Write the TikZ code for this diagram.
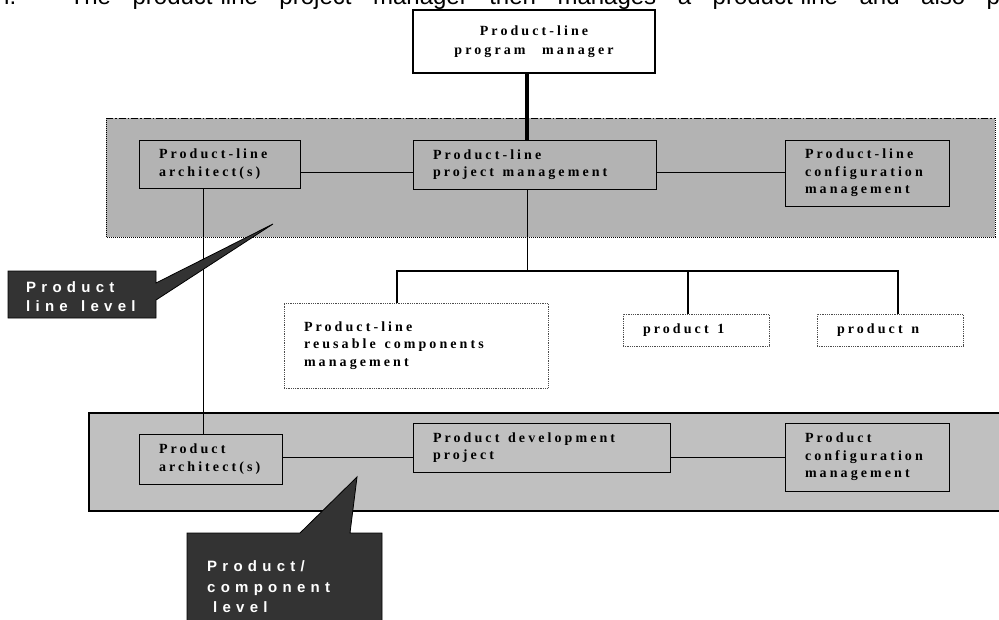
\documentclass[tikz,border=0pt]{standalone}
\usepackage{fontspec}
\setmainfont{Liberation Serif}
\newfontfamily\boxfont[LetterSpace=22]{Liberation Serif}
\newfontfamily\tagfont[LetterSpace=35]{Liberation Sans}
\newfontfamily\bodyfont{Liberation Sans}
% extra room between letter-spaced words
\newcommand{\wsp}{\hspace{4pt} }
\definecolor{levelgray}{HTML}{B3B3B3}
\definecolor{prodgray}{HTML}{C0C0C0}
\definecolor{tagfill}{HTML}{333333}
\tikzset{
  unitbox/.style={rectangle, draw=black, line width=0.8pt, inner xsep=20pt, inner ysep=0pt,
    align=left, font={\boxfont\bfseries\fontsize{14}{17.5}\selectfont}},
  openbox/.style={unitbox, draw=black!70, densely dotted, fill=white},
  headbox/.style={unitbox, line width=2pt, fill=white, align=center,
    font={\boxfont\bfseries\fontsize{14}{19.5}\selectfont}},
  link/.style={line width=1pt},
  bus/.style={line width=2.6pt},
  trunk/.style={line width=4pt},
  tagshape/.style={fill=tagfill, draw=black, line width=0.8pt, line join=miter},
  tagtext/.style={anchor=base west, inner sep=0pt, text=white,
    font={\tagfont\bfseries\fontsize{15}{20}\selectfont}}
}
\begin{document}
\begin{tikzpicture}[x=1pt,y=-1pt]
\path[use as bounding box, clip] (0,0) rectangle (999,619);

% running text of the page, cut by the top edge
\node[anchor=base west, inner sep=0pt, font={\bodyfont\fontsize{24}{24}\selectfont}] (runtext) at (-4,4)
  {\makebox[1004pt][s]{n. The product-line project manager then manages a product-line and also p}};

% product-line level band
\fill[levelgray] (106,118) rectangle (995,237);
\draw[line width=1pt, dash pattern=on 7pt off 2pt on 1.5pt off 2pt] (106,118) -- (995,118);
\draw[line width=1pt, dash pattern=on 1pt off 1pt] (995,118) -- (995,237) -- (106,237) -- (106,118);

% product/component level band
\draw[fill=prodgray, line width=1.4pt] (89,413) rectangle (1002,511);

% top manager
\node[headbox, minimum width=242pt, minimum height=63pt] (top) at (534,41.5)
  {Product-line\\program\hspace{10pt} manager};

% product-line level units
\node[unitbox, minimum width=161pt, minimum height=48pt, text width=121pt] (arch) at (219.5,164)
  {Product-line\\architect(s)};
\node[unitbox, minimum width=243pt, minimum height=49pt, text width=203pt] (pm) at (534.5,164.5)
  {Product-line\\project\wsp management};
\node[unitbox, minimum width=164pt, minimum height=66pt, text width=124pt] (cfg) at (867,173)
  {Product-line\\configuration\\management};

% units under the project management
\node[openbox, minimum width=264pt, minimum height=85pt, text width=224pt] (reuse) at (416,345.5)
  {Product-line\\reusable\wsp components\\management\\[8pt]};
\node[openbox, minimum width=146pt, minimum height=32pt, text width=106pt] (p1) at (696,330)
  {product\wsp 1};
\node[openbox, minimum width=146pt, minimum height=32pt, text width=106pt] (pn) at (890,330)
  {product\wsp n};

% product level units
\node[unitbox, minimum width=143pt, minimum height=50pt, text width=103pt] (parch) at (210.5,459)
  {Product\\architect(s)};
\node[unitbox, minimum width=257pt, minimum height=49pt, text width=217pt] (dev) at (541.5,447.5)
  {Product\wsp development\\project};
\node[unitbox, minimum width=164pt, minimum height=68pt, text width=124pt] (pcfg) at (867,457)
  {Product\\configuration\\management};

% reference points for connectors
\coordinate (spine) at (527,271);
\coordinate (busL) at (397,271);
\coordinate (busR) at (898,271);
\coordinate (p1drop) at (688,271);
\coordinate (lvl1) at (0,172);
\coordinate (lvl2) at (0,457);
\coordinate (archx) at (203,0);

% connectors
\draw[trunk] (top.south -| spine) -- (pm.north -| spine);
\draw[link] (arch.east |- lvl1) -- (pm.west |- lvl1);
\draw[link] (pm.east |- lvl1) -- (cfg.west |- lvl1);
\draw[link] (pm.south -| spine) -- (spine);
\draw[bus, line join=miter] (reuse.north -| busL) -- (busL) -- (busR) -- (pn.north -| busR);
\draw[bus] (p1drop) -- (p1.north -| p1drop);
\draw[link] (arch.south -| archx) -- (parch.north -| archx);
\draw[link] (parch.east |- lvl2) -- (dev.west |- lvl2);
\draw[link] (dev.east |- lvl2) -- (pcfg.west |- lvl2);

% callout: product line level
\coordinate (tip1) at (273,224);
\draw[tagshape] (8,271) -- (156,271) -- (156,283) -- (tip1) -- (156,300) -- (156,318) -- (8,318) -- cycle;
\node[tagtext] (tag1a) at (26,292) {Product};
\node[tagtext] (tag1b) at (26,311) {line\wsp level};

% callout: product/component level
\coordinate (tip2) at (357,477);
\draw[tagshape] (187,533) -- (300,533) -- (tip2) -- (350,533) -- (382,533) -- (382,630) -- (187,630) -- cycle;
\node[tagtext] (tag2a) at (207,571) {Product/};
\node[tagtext] (tag2b) at (207,592) {component};
\node[tagtext] (tag2c) at (213,612) {level};
\end{tikzpicture}
\end{document}
